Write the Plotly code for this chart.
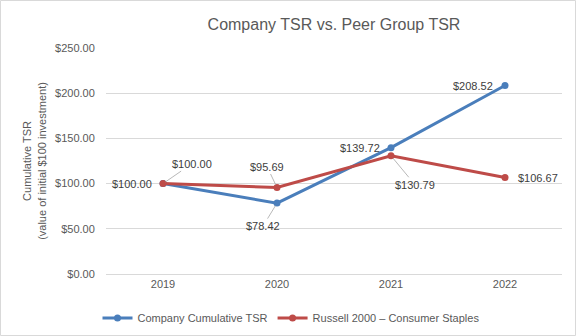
import plotly.graph_objects as go

years = ["2019", "2020", "2021", "2022"]
company_tsr = [100.00, 78.42, 139.72, 208.52]
russell_tsr = [100.00, 95.69, 130.79, 106.67]
y_ticks = [0, 50, 100, 150, 200, 250]

BLUE = "#4A7EBB"
RED = "#BE4B48"
GRAY = "#595959"
FONT = "Liberation Sans"

fig = go.Figure()
fig.add_trace(go.Scatter(x=years, y=company_tsr, name="Company Cumulative TSR",
                         mode="lines+markers", line=dict(color=BLUE, width=3),
                         marker=dict(size=7, color=BLUE)))
fig.add_trace(go.Scatter(x=years, y=russell_tsr, name="Russell 2000 \u2013 Consumer Staples",
                         mode="lines+markers", line=dict(color=RED, width=3),
                         marker=dict(size=7, color=RED)))

def lab(i, y, ax, ay, arrow):
    # i is the category index on the category axis
    return dict(x=i, y=y, xref="x", yref="y", text=f"${y:,.2f}",
                showarrow=True, ax=ax, ay=ay,
                arrowhead=0, arrowwidth=0.8,
                arrowcolor="#A6A6A6" if arrow else "rgba(0,0,0,0)",
                standoff=3, font=dict(family=FONT, size=11, color="#404040"))

annots = [
    lab(0, company_tsr[0], -31, 0, False),
    lab(1, company_tsr[1], -14, 23, True),
    lab(2, company_tsr[2], -31, 0, False),
    lab(3, company_tsr[3], -32, 0, False),
    lab(0, russell_tsr[0], 29, -20, True),
    lab(1, russell_tsr[1], -10, -21, True),
    lab(2, russell_tsr[2], 24, 29, True),
    lab(3, russell_tsr[3], 33, 0, False),
]

fig.update_layout(
    width=576, height=336,
    margin=dict(l=106, r=14, t=48, b=62, autoexpand=False),
    paper_bgcolor="white", plot_bgcolor="white",
    font=dict(family=FONT, size=11, color=GRAY),
    title=dict(text="Company TSR vs. Peer Group TSR", x=0.5, xref="paper",
               xanchor="center", y=1 - 24 / 336, yanchor="middle",
               font=dict(family=FONT, size=16, color=GRAY)),
    xaxis=dict(type="category", range=[-0.5, 3.5], showgrid=False,
               showline=True, linecolor="#D9D9D9", linewidth=1,
               ticks="", tickfont=dict(size=11, color=GRAY), tickangle=0),
    yaxis=dict(range=[0, 250], tickvals=y_ticks,
               ticktext=[f"${v:,.2f}" for v in y_ticks],
               showgrid=True, gridcolor="#D9D9D9", gridwidth=1,
               zeroline=False, showline=False, ticks="outside", ticklen=8,
               tickcolor="white",
               tickfont=dict(size=11, color=GRAY),
               title=dict(text="Cumulative TSR<br>(value of initial $100 investment)",
                          font=dict(size=11, color=GRAY), standoff=6)),
    legend=dict(orientation="h", x=(291 - 106) / 456, xanchor="center",
                y=-44 / 226, yanchor="middle", font=dict(size=11, color=GRAY),
                itemwidth=30, bgcolor="rgba(0,0,0,0)"),
    annotations=annots,
)
fig.add_shape(type="rect", xref="paper", yref="paper",
              x0=-105.5 / 456, x1=1 + 13.5 / 456, y0=-61.5 / 226, y1=1 + 47.5 / 226,
              line=dict(color="#D9D9D9", width=1), layer="below")

fig.write_html("out.html")
